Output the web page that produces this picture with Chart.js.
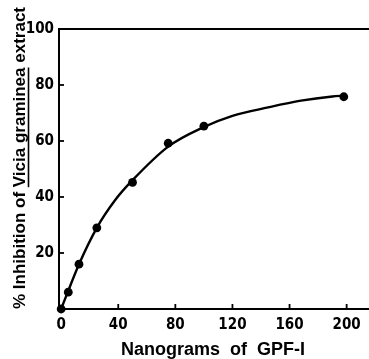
<!DOCTYPE html>
<html>
<head>
<meta charset="utf-8">
<script src="https://cdn.jsdelivr.net/npm/chart.js@4"></script>
<style>
  html, body { margin: 0; padding: 0; background: #fff; overflow: hidden; }
  #chart { display: block; }
</style>
</head>
<body>
<canvas id="chart" width="369" height="359"></canvas>
<script>
// measured points
const doseNg = [0, 5, 12.5, 25, 50, 75, 100, 198];
const inhibition = [0, 6, 16, 29, 45.2, 59.2, 65.3, 75.8];

// hand-drawn fitted curve
const curveNg = [0, 5, 12.5, 25, 38, 50, 75, 100, 120, 145, 168, 190, 198];
const curveInhibition = [0, 6.5, 16, 29, 39, 46, 58, 65, 69, 72, 74.4, 75.9, 76.2];

const xTicks = [0, 40, 80, 120, 160, 200];
const yTicks = [0, 20, 40, 60, 80, 100];

const xTitle = 'Nanograms  of  GPF-I';
const yTitleParts = ['% Inhibition of ', 'Vicia graminea', ' extract'];

const X_MIN = -1.5;
const PX_PER_NG = 1.4275;   // the printed axis runs past the right edge of the page

const tickFont = { family: "'Liberation Sans Narrow', 'DejaVu Sans Condensed', 'Liberation Sans', sans-serif", size: 15, weight: 'bold' };
const titleFont = "bold 18px 'Liberation Sans', 'DejaVu Sans', sans-serif";
const yTitleFont = "bold 16px 'Liberation Sans', 'DejaVu Sans', sans-serif";

const toPoints = (xs, ys) => xs.map((x, i) => ({ x: x, y: ys[i] }));

// ticks point into the plot, and the y title has an underlined part
const paperPlugin = {
    id: 'paper',
    afterDraw(chart) {
        const ctx = chart.ctx;
        const xs = chart.scales.x;
        const ys = chart.scales.y;
        const area = chart.chartArea;
        ctx.save();
        ctx.strokeStyle = '#000';

        // frame lines run off the right edge of the page
        ctx.lineWidth = 2;
        [area.top, area.bottom].forEach(py => {
            ctx.beginPath();
            ctx.moveTo(area.right - 1, py);
            ctx.lineTo(chart.width, py);
            ctx.stroke();
        });

        ctx.lineWidth = 1.8;
        xTicks.forEach(v => {
            if (v === 0) return;
            const px = xs.getPixelForValue(v);
            ctx.beginPath();
            ctx.moveTo(px, area.bottom);
            ctx.lineTo(px, area.bottom - 5);
            ctx.stroke();
        });
        yTicks.forEach(v => {
            if (v === 0 || v === 100) return;
            const py = ys.getPixelForValue(v);
            ctx.beginPath();
            ctx.moveTo(area.left, py);
            ctx.lineTo(area.left + 5, py);
            ctx.stroke();
        });

        // x title
        ctx.fillStyle = '#000';
        ctx.font = titleFont;
        ctx.textAlign = 'center';
        ctx.textBaseline = 'alphabetic';
        ctx.fillText(xTitle, 213, 355);

        // y title, rotated, squeezed to the printed length
        ctx.font = yTitleFont;
        const full = yTitleParts.join('');
        const w = ctx.measureText(full).width;
        const target = 302;
        ctx.translate(25, 158);
        ctx.rotate(-Math.PI / 2);
        ctx.scale(target / w, 1);
        ctx.textAlign = 'left';
        const x0 = -w / 2;
        ctx.fillText(full, x0, 0);
        const pre = ctx.measureText(yTitleParts[0]).width;
        const mid = ctx.measureText(yTitleParts[1]).width;
        ctx.lineWidth = 1.6;
        ctx.beginPath();
        ctx.moveTo(x0 + pre, 3.5);
        ctx.lineTo(x0 + pre + mid, 3.5);
        ctx.stroke();
        ctx.restore();
    }
};

const ctx = document.getElementById('chart').getContext('2d');
const chart = new Chart(ctx, {
    type: 'scatter',
    data: {
        datasets: [
            {
                label: 'curve',
                data: toPoints(curveNg, curveInhibition),
                showLine: true,
                borderColor: '#000',
                borderWidth: 2.4,
                pointRadius: 0,
                cubicInterpolationMode: 'monotone',
                clip: false
            },
            {
                label: 'measured',
                data: toPoints(doseNg, inhibition),
                backgroundColor: '#000',
                borderColor: '#000',
                pointRadius: 4.4,
                borderWidth: 0,
                clip: false
            }
        ]
    },
    options: {
        responsive: false,
        animation: false,
        layout: { padding: 0 },
        plugins: {
            legend: { display: false },
            tooltip: { enabled: false }
        },
        scales: {
            x: {
                type: 'linear',
                position: 'bottom',
                min: X_MIN,
                max: 215.6,
                afterBuildTicks: s => { s.ticks = xTicks.map(v => ({ value: v })); },
                afterFit: s => { s.height = 50; },
                grid: { display: false, drawTicks: false },
                border: { display: true, color: '#000', width: 2 },
                ticks: { color: '#000', font: tickFont, padding: 7, maxRotation: 0 }
            },
            xTop: {
                type: 'linear',
                position: 'top',
                min: X_MIN,
                max: 215.6,
                afterFit: s => { s.height = 29; },
                grid: { display: false, drawTicks: false },
                border: { display: true, color: '#000', width: 2 },
                ticks: { display: false }
            },
            y: {
                type: 'linear',
                min: 0,
                max: 100,
                afterBuildTicks: s => { s.ticks = yTicks.filter(v => v > 0).map(v => ({ value: v })); },
                afterFit: s => { s.width = 59; },
                grid: { display: false, drawTicks: false },
                border: { display: true, color: '#000', width: 2 },
                ticks: { color: '#000', font: tickFont, padding: 5 }
            }
        }
    },
    plugins: [paperPlugin]
});

// keep the printed scale (ng per pixel) whatever width the plot area ends up with
const areaWidth = chart.chartArea.right - chart.chartArea.left;
const xMax = X_MIN + areaWidth / PX_PER_NG;
chart.options.scales.x.max = xMax;
chart.options.scales.xTop.max = xMax;
chart.update();
</script>
</body>
</html>
